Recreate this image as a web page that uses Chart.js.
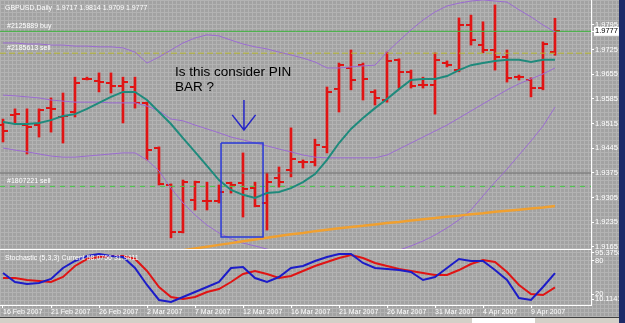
<!DOCTYPE html>
<html>
<head>
<meta charset="utf-8">
<title>GBPUSD,Daily</title>
<script src="https://cdn.jsdelivr.net/npm/chart.js@4.4.1/dist/chart.umd.min.js"></script>
<style>
  html, body { margin: 0; padding: 0; }
  body { width: 625px; height: 323px; overflow: hidden; background: #1c2a68; position: relative; }
  #panel {
    position: absolute; left: 0; top: 0; width: 619px; height: 317px;
    background-color: #a2a2a2;
    background-image: linear-gradient(#b3b3b3 1px, transparent 1px), linear-gradient(90deg, #b3b3b3 1px, transparent 1px);
    background-size: 4px 4px;
  }
  canvas { position: absolute; left: 0; }
  #main { top: 0; }
  #stoch { top: 250px; }
  #tabs { position: absolute; left: 0; top: 317px; width: 619px; height: 6px; background: #d4d0c8; border-top: 1px solid #404040; }
  #tab { position: absolute; left: 472px; top: 0; width: 63px; height: 6px; background: #ffffff; }
</style>
</head>
<body>
<div id="panel">
  <canvas id="main" width="619" height="250"></canvas>
  <canvas id="stoch" width="619" height="67"></canvas>
</div>
<div id="tabs"><div id="tab"></div></div>
<script>
// daily bars, index 0 = 16 Feb 2007
const opens = [1.9511, 1.9540, 1.9511, 1.9511, 1.9559, 1.9534, 1.9548, 1.9642, 1.9636, 1.9630,
  1.9622, 1.9619, 1.9574, 1.9446, 1.9341, 1.9208, 1.9298, 1.9296, 1.9296, 1.9347,
  1.9347, 1.9332, 1.9290, 1.9361, 1.9384, 1.9406, 1.9406, 1.9449, 1.9613, 1.9673,
  1.9681, 1.9605, 1.9582, 1.9696, 1.9662, 1.9625, 1.9625, 1.9687, 1.9667, 1.9795,
  1.9738, 1.9724, 1.9704, 1.9647, 1.9639, 1.9616, 1.9717];
const highs = [1.9528, 1.9557, 1.9557, 1.9557, 1.9588, 1.9602, 1.9647, 1.9647, 1.9659, 1.9659,
  1.9647, 1.9647, 1.9576, 1.9449, 1.9344, 1.9355, 1.9352, 1.9349, 1.9341, 1.9349,
  1.9432, 1.9349, 1.9375, 1.9392, 1.9503, 1.9412, 1.9471, 1.9619, 1.9687, 1.9724,
  1.9687, 1.9611, 1.9718, 1.9699, 1.9667, 1.9647, 1.9716, 1.9693, 1.9815, 1.9823,
  1.9804, 1.9852, 1.9724, 1.9653, 1.9645, 1.9747, 1.9814];
const lows = [1.9463, 1.9517, 1.9429, 1.9477, 1.9491, 1.9460, 1.9534, 1.9639, 1.9605, 1.9602,
  1.9517, 1.9559, 1.9412, 1.9341, 1.9191, 1.9205, 1.9270, 1.9270, 1.9290, 1.9318,
  1.9250, 1.9279, 1.9213, 1.9335, 1.9364, 1.9389, 1.9395, 1.9432, 1.9548, 1.9611,
  1.9582, 1.9568, 1.9576, 1.9616, 1.9616, 1.9616, 1.9542, 1.9676, 1.9662, 1.9738,
  1.9716, 1.9667, 1.9633, 1.9639, 1.9591, 1.9611, 1.9709];
const closes = [1.9494, 1.9542, 1.9506, 1.9554, 1.9557, 1.9537, 1.9630, 1.9642, 1.9633, 1.9622,
  1.9633, 1.9574, 1.9440, 1.9344, 1.9208, 1.9349, 1.9349, 1.9296, 1.9321, 1.9341,
  1.9330, 1.9281, 1.9349, 1.9349, 1.9415, 1.9406, 1.9454, 1.9605, 1.9681, 1.9639,
  1.9642, 1.9588, 1.9693, 1.9662, 1.9622, 1.9625, 1.9696, 1.9681, 1.9795, 1.9752,
  1.9724, 1.9704, 1.9645, 1.9647, 1.9616, 1.9741, 1.9777];

// indicators
const ma = [1.9520, 1.9514, 1.9514, 1.9517, 1.9525, 1.9537, 1.9542, 1.9557, 1.9574, 1.9591,
  1.9605, 1.9605, 1.9582, 1.9548, 1.9514, 1.9474, 1.9435, 1.9395, 1.9355, 1.9327,
  1.9313, 1.9304, 1.9318, 1.9321, 1.9332, 1.9349, 1.9372, 1.9412, 1.9460, 1.9500,
  1.9531, 1.9559, 1.9585, 1.9613, 1.9639, 1.9642, 1.9642, 1.9650, 1.9667, 1.9681,
  1.9687, 1.9693, 1.9696, 1.9696, 1.9690, 1.9696, 1.9696];
const bbUpper = [1.9744, 1.9744, 1.9741, 1.9741, 1.9738, 1.9738, 1.9735, 1.9735, 1.9733, 1.9733,
  1.9730, 1.9718, 1.9687, 1.9704, 1.9724, 1.9744, 1.9758, 1.9767, 1.9764, 1.9752,
  1.9741, 1.9733, 1.9727, 1.9718, 1.9710, 1.9701, 1.9690, 1.9673, 1.9673, 1.9676,
  1.9679, 1.9681, 1.9718, 1.9750, 1.9781, 1.9809, 1.9832, 1.9849, 1.9857, 1.9863,
  1.9866, 1.9863, 1.9860, 1.9838, 1.9818, 1.9795, 1.9775];
const bbMid = [1.9596, 1.9594, 1.9591, 1.9588, 1.9582, 1.9579, 1.9576, 1.9576, 1.9576, 1.9574,
  1.9574, 1.9574, 1.9565, 1.9551, 1.9528, 1.9523, 1.9511, 1.9500, 1.9489, 1.9477,
  1.9469, 1.9460, 1.9452, 1.9443, 1.9435, 1.9426, 1.9420, 1.9418, 1.9418, 1.9418,
  1.9418, 1.9418, 1.9426, 1.9443, 1.9460, 1.9477, 1.9494, 1.9511, 1.9531, 1.9551,
  1.9571, 1.9591, 1.9611, 1.9628, 1.9642, 1.9656, 1.9673];
const bbLower = [1.9446, 1.9440, 1.9435, 1.9429, 1.9423, 1.9420, 1.9420, 1.9423, 1.9426, 1.9429,
  1.9432, 1.9432, 1.9412, 1.9381, 1.9332, 1.9290, 1.9256, 1.9227, 1.9205, 1.9188,
  1.9176, 1.9168, 1.9159, 1.9151, 1.9142, 1.9137, 1.9134, 1.9134, 1.9134, 1.9134,
  1.9134, 1.9134, 1.9139, 1.9156, 1.9168, 1.9182, 1.9199, 1.9219, 1.9242, 1.9270,
  1.9310, 1.9349, 1.9386, 1.9426, 1.9466, 1.9508, 1.9562];
const slowMa = [null, null, null, null, null, null, null, null, null, null,
  null, null, null, null, null, 1.9156, 1.9161, 1.9166, 1.9171, 1.9176,
  1.9181, 1.9186, 1.9191, 1.9196, 1.9201, 1.9205, 1.9210, 1.9214, 1.9218, 1.9222,
  1.9225, 1.9229, 1.9233, 1.9236, 1.9240, 1.9244, 1.9247, 1.9251, 1.9254, 1.9258,
  1.9261, 1.9265, 1.9268, 1.9271, 1.9274, 1.9277, 1.9281];

const stochMain = [58.2, 41.8, 38.2, 40.0, 47.3, 67.3, 80.0, 89.1, 92.7, 89.1,
  87.3, 67.3, 36.4, 9.1, 5.5, 14.5, 23.6, 32.7, 41.8, 67.3,
  69.1, 49.1, 41.8, 50.9, 67.3, 70.9, 80.0, 87.3, 92.7, 92.7,
  76.4, 67.3, 65.5, 63.6, 60.0, 45.5, 50.9, 67.3, 83.6, 80.0,
  80.0, 63.6, 45.5, 12.7, 9.1, 32.7, 58.08];
const stochSignal = [49.1, 49.1, 45.5, 43.6, 41.8, 50.9, 70.9, 83.6, 87.3, 89.1,
  89.1, 83.6, 61.8, 32.7, 14.5, 10.9, 14.5, 23.6, 29.1, 41.8,
  56.4, 61.8, 56.4, 49.1, 52.7, 61.8, 70.9, 78.2, 85.5, 90.9,
  85.5, 76.4, 70.9, 65.5, 61.8, 58.2, 54.5, 54.5, 63.6, 74.5,
  81.8, 78.2, 60.0, 36.4, 20.0, 18.2, 31.94];

// axes
const priceTicks = [1.9165, 1.9235, 1.9305, 1.9375, 1.9445, 1.9515, 1.9585, 1.9655, 1.9725, 1.9795];
const stochTicks = [95.3758, 80, 20, 10.1141];
const dateTicks = ['16 Feb 2007', '21 Feb 2007', '26 Feb 2007', '2 Mar 2007', '7 Mar 2007', '12 Mar 2007',
  '16 Mar 2007', '21 Mar 2007', '26 Mar 2007', '31 Mar 2007', '4 Apr 2007', '9 Apr 2007'];
const barsPerDateTick = 4;

// order lines and chart objects
const orderNames = ['#2125889 buy', '#2185613 sell', '#1807221 sell'];
const orderPrices = [1.9777, 1.9715, 1.9337];
const levelLine = 1.9375;
const boxX = [18.17, 21.67];
const boxY = [1.9460, 1.9193];
const arrowX = [19.1, 20.08, 21.05];
const arrowY = [1.9582, 1.9497, 1.9540];
const noteLines = ['Is this consider PIN', 'BAR ?'];
const notePos = { x: 14.33, y: 1.9679 };
const header = 'GBPUSD,Daily  1.9717 1.9814 1.9709 1.9777';
const stochTitle = 'Stochastic (5,3,3) Current 58.0756 31.9411';

const RED = '#e01414';
const FONT = '"Liberation Sans", Arial, sans-serif';
Chart.defaults.font.family = FONT;
const lastClose = closes[closes.length - 1];

// little left / right stubs for open & close
function stub(right) {
  const c = document.createElement('canvas');
  c.width = 10; c.height = 2;
  const g = c.getContext('2d');
  g.fillStyle = RED;
  g.fillRect(right ? 6 : 0, 0, 4, 2);
  return c;
}

const xs = opens.map((_, i) => i);
const pts = arr => arr.map((v, i) => ({ x: i, y: v }));
const flat = (v, color, dash) => ({
  type: 'line', data: [{ x: -0.25, y: v }, { x: 49, y: v }],
  borderColor: color, borderWidth: 1, borderDash: dash || [], pointRadius: 0, order: 3
});
const line = (arr, color, w, order) => ({
  type: 'line', data: pts(arr), borderColor: color, borderWidth: w,
  pointRadius: 0, tension: 0, order: order
});

const xAxisBase = {
  type: 'linear', min: -0.25, max: 49, offset: false,
  grid: { display: false, offset: false },
  border: { color: '#ffffff', width: 1 }
};

const mainText = {
  id: 'mainText',
  afterDatasetsDraw(chart) {
    const { ctx, scales: { x, y } } = chart;
    ctx.save();
    ctx.fillStyle = '#ffffff';
    ctx.font = '7px ' + FONT;
    ctx.textBaseline = 'middle';
    ctx.fillText(header, 5, 8);
    orderNames.forEach((n, i) => ctx.fillText(n, 7, y.getPixelForValue(orderPrices[i]) - 5.5));
    ctx.fillStyle = '#000000';
    ctx.font = '13.5px ' + FONT;
    ctx.textBaseline = 'top';
    noteLines.forEach((t, k) => ctx.fillText(t, x.getPixelForValue(notePos.x), y.getPixelForValue(notePos.y) + k * 15));
    ctx.restore();
  }
};

new Chart(document.getElementById('main'), {
  type: 'bar',
  data: {
    datasets: [
      { type: 'bar', data: xs.map(i => ({ x: i, y: [lows[i], highs[i]] })),
        backgroundColor: RED, barThickness: 2, order: 10 },
      { type: 'line', data: pts(opens), showLine: false, pointStyle: stub(false), pointRadius: 1, order: 9 },
      { type: 'line', data: pts(closes), showLine: false, pointStyle: stub(true), pointRadius: 1, order: 9 },
      flat(orderPrices[0], '#3cb43c'),
      flat(orderPrices[1], '#b4b42c', [6, 3]),
      flat(orderPrices[2], '#46c846', [5, 5]),
      flat(levelLine, '#6a6a6a'),
      line(slowMa, '#f0a030', 2.5, 2),
      line(bbUpper, '#9b6bd2', 1, 2),
      line(bbMid, '#9b6bd2', 1, 2),
      line(bbLower, '#9b6bd2', 1, 2),
      line(ma, '#1f8a7c', 2, 1),
      { type: 'line', order: 0, borderColor: '#2a3ad8', borderWidth: 1.5, pointRadius: 0,
        data: [{ x: boxX[0], y: boxY[0] }, { x: boxX[1], y: boxY[0] }, { x: boxX[1], y: boxY[1] },
               { x: boxX[0], y: boxY[1] }, { x: boxX[0], y: boxY[0] }] },
      { type: 'line', order: 0, borderColor: '#2424c8', borderWidth: 1.5, pointRadius: 0, spanGaps: false,
        data: [{ x: arrowX[1], y: arrowY[0] }, { x: arrowX[1], y: arrowY[1] }, { x: arrowX[1], y: null },
               { x: arrowX[0], y: arrowY[2] }, { x: arrowX[1], y: arrowY[1] }, { x: arrowX[2], y: arrowY[2] }] }
    ]
  },
  options: {
    responsive: false, animation: false, events: [],
    layout: { padding: 0, autoPadding: false },
    plugins: { legend: { display: false }, tooltip: { enabled: false } },
    scales: {
      x: Object.assign({}, xAxisBase, {
        ticks: { display: false },
        afterFit: s => { s.height = 1; s.paddingLeft = 0; s.paddingRight = 0; }
      }),
      y: {
        position: 'right',
        min: 1.91593, max: 1.98659,
        afterFit: s => { s.width = 28; s.paddingTop = 0; s.paddingBottom = 0; },
        afterBuildTicks: s => { s.ticks = priceTicks.concat([lastClose]).map(v => ({ value: v })); },
        ticks: {
          autoSkip: false, padding: 1, font: { size: 7.5 },
          color: c => (c.tick && c.tick.value === lastClose ? '#000000' : '#ffffff'),
          showLabelBackdrop: true,
          backdropColor: c => (c.tick && c.tick.value === lastClose ? '#ffffff' : 'rgba(0,0,0,0)'),
          backdropPadding: { top: 0, bottom: 0, left: 1, right: 1 },
          callback: v => v.toFixed(4)
        },
        grid: { drawOnChartArea: false, tickLength: 3, color: '#ffffff' },
        border: { color: '#ffffff', width: 1 }
      }
    }
  },
  plugins: [mainText]
});

const stochText = {
  id: 'stochText',
  afterDatasetsDraw(chart) {
    const { ctx } = chart;
    ctx.save();
    ctx.fillStyle = '#ffffff';
    ctx.font = '7px ' + FONT;
    ctx.textBaseline = 'middle';
    ctx.fillText(stochTitle, 5, 8);
    ctx.restore();
  }
};

new Chart(document.getElementById('stoch'), {
  type: 'line',
  data: {
    datasets: [
      line(stochMain, '#1c1cc8', 2, 1),
      line(stochSignal, '#e01414', 2, 2)
    ]
  },
  options: {
    responsive: false, animation: false, events: [],
    layout: { padding: 0, autoPadding: false },
    plugins: { legend: { display: false }, tooltip: { enabled: false } },
    scales: {
      x: Object.assign({}, xAxisBase, {
        grid: { display: true, drawOnChartArea: false, tickLength: 3, color: '#ffffff', offset: false },
        afterBuildTicks: s => { s.ticks = dateTicks.map((_, k) => ({ value: k * barsPerDateTick })); },
        ticks: {
          autoSkip: false, maxRotation: 0, minRotation: 0, align: 'start', padding: 0,
          color: '#ffffff', font: { size: 7 },
          callback: v => dateTicks[v / barsPerDateTick]
        },
        afterFit: s => { s.height = 12; s.paddingLeft = 0; s.paddingRight = 0; }
      }),
      y: {
        position: 'right', min: 0, max: 100,
        afterFit: s => { s.width = 28; s.paddingTop = 0; s.paddingBottom = 0; },
        afterBuildTicks: s => { s.ticks = stochTicks.map(v => ({ value: v })); },
        ticks: { autoSkip: false, padding: 1, font: { size: 7.5 }, color: '#ffffff', callback: v => String(v) },
        grid: { drawOnChartArea: false, tickLength: 3, color: '#ffffff' },
        border: { color: '#ffffff', width: 1 }
      }
    }
  },
  plugins: [stochText]
});
</script>
</body>
</html>
